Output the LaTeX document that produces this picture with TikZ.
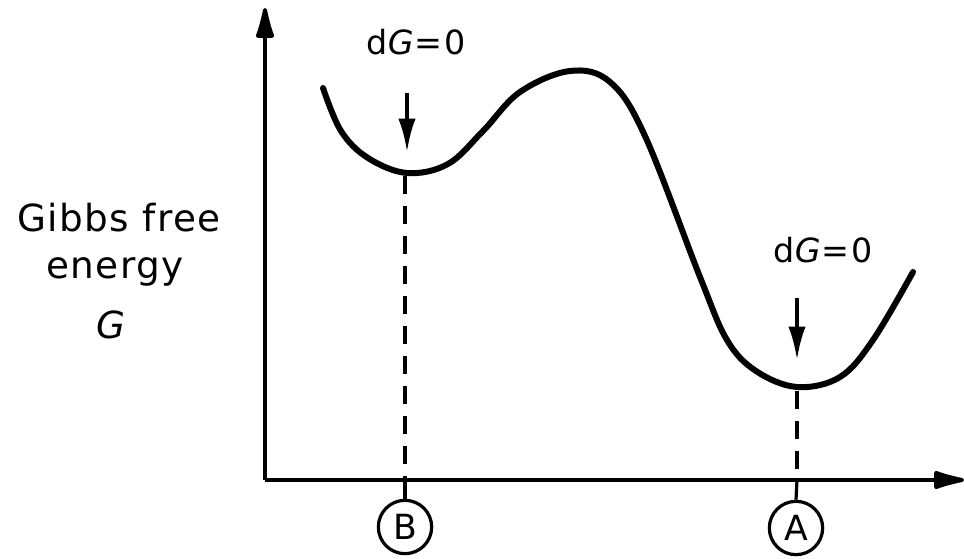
\documentclass[tikz,border=0pt]{standalone}
\usepackage{fontspec}
\setmainfont{DejaVu Sans}[LetterSpace=4]
\usetikzlibrary{arrows.meta}
\begin{document}
\begin{tikzpicture}[x=0.75pt,y=-0.75pt,
  axis/.style={line width=3pt,-{Latex[length=30pt,width=15pt,round]}},
  curve/.style={line width=4.5pt,line cap=round},
  guide/.style={line width=2.4pt,dash pattern=on 13.5pt off 9pt},
  stem/.style={line width=2.4pt},
  marker/.style={line width=3pt,-{Latex[length=25pt,width=13pt]}},
  lbl/.style={font=\fontsize{28}{32}\selectfont,inner sep=0pt},
  dlbl/.style={font=\fontsize{25}{30}\selectfont,inner sep=0pt},
  circ/.style={circle,draw,line width=2.4pt,minimum size=40pt,inner sep=0pt,font=\fontsize{26}{30}\selectfont}]
\useasboundingbox (0,0) rectangle (964,559);
\coordinate (O) at (265,480);
\coordinate (Ytop) at (265,8);
\coordinate (Xend) at (964,480);
\draw[axis] (O) -- (Ytop);
\draw[axis] (O) -- (Xend);
\draw[curve] plot[smooth,tension=0.6] coordinates{(323,88) (341,131) (368,158) (407,173) (448,164) (483,131) (520,92) (570,71) (610,82) (645,136) (700,277) (727,340) (756,371) (797,387) (840,377) (873,340) (913,272)};
\coordinate (Bmin) at (405,176);
\coordinate (Amin) at (797,391);
\coordinate (Bx) at (405,480);
\coordinate (Ax) at (797,480);
\node[circ] (B) at (405,527) {B};
\node[circ] (A) at (796,528) {A};
\draw[guide] (Bmin) -- (Bx);
\draw[guide] (Amin) -- (Ax);
\draw[stem] (Bx) -- (B.north);
\draw[stem] (Ax) -- (A.north);
\node[dlbl] (tB) at (416,42) {d\textit{G}=0};
\node[dlbl] (tA) at (823,250) {d\textit{G}=0};
\coordinate (aBs) at (407,93);
\coordinate (aBe) at (407,152);
\coordinate (aAs) at (797,298);
\coordinate (aAe) at (797,360);
\draw[marker] (aBs) -- (aBe);
\draw[marker] (aAs) -- (aAe);
\node[lbl] (g1) at (119,218) {Gibbs free};
\node[lbl] (g2) at (115,272) {energy};
\node[lbl] (g3) at (112,325) {\textit{G}};
\end{tikzpicture}
\end{document}
